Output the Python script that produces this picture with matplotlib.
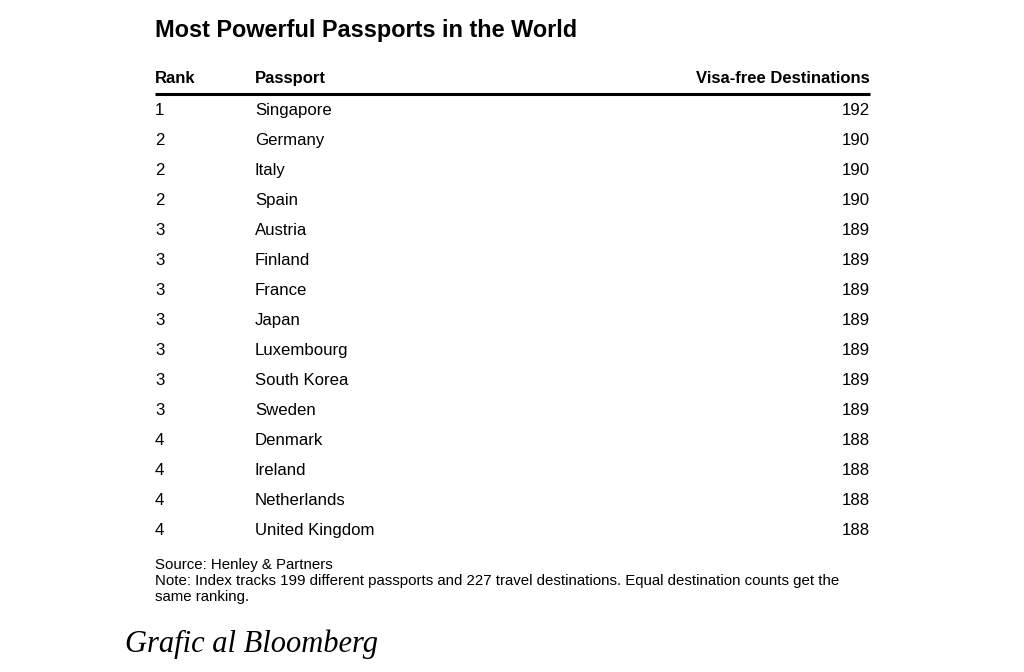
"""Most Powerful Passports in the World - table chart"""
import matplotlib
matplotlib.use('Agg')
import matplotlib.pyplot as plt

plt.rcParams.update({'font.family': ['Liberation Sans', 'DejaVu Sans']})

ranks = [1, 2, 2, 2, 3, 3, 3, 3, 3, 3, 3, 4, 4, 4, 4]
passports = ['Singapore', 'Germany', 'Italy', 'Spain', 'Austria', 'Finland',
             'France', 'Japan', 'Luxembourg', 'South Korea', 'Sweden',
             'Denmark', 'Ireland', 'Netherlands', 'United Kingdom']
destinations = [192, 190, 190, 190, 189, 189, 189, 189, 189, 189, 189,
                188, 188, 188, 188]
headers = ['Rank', 'Passport', 'Visa-free Destinations']

TITLE = 'Most Powerful Passports in the World'
FOOTNOTES = ['Source: Henley & Partners',
             'Note: Index tracks 199 different passports and 227 travel destinations. '
             'Equal destination counts get the',
             'same ranking.']
CAPTION = 'Grafic al Bloomberg'

fig = plt.figure(figsize=(10.24, 6.72), dpi=100)
ax = fig.add_axes([0, 0, 1, 1])
ax.set_xlim(0, 1024)
ax.set_ylim(672, 0)
ax.axis('off')

# column positions and row spacing (pixels)
x_rank, x_pass, x_val = 155, 255, 870
row0, step = 115, 30

ax.text(x_rank, 37, TITLE, fontsize=16.9, fontweight='bold', va='baseline', ha='left')

for x, h, ha in zip([x_rank, x_pass, x_val], headers, ['left', 'left', 'right']):
    ax.text(x, 83, h, fontsize=12, fontweight='bold', va='baseline', ha=ha)
ax.plot([x_rank, x_val], [94.3, 94.3], color='black', lw=2.2, solid_capstyle='butt')

for i, (r, p, d) in enumerate(zip(ranks, passports, destinations)):
    y = row0 + i * step
    ax.text(x_rank, y, str(r), fontsize=12.1, va='baseline', ha='left')
    ax.text(x_pass, y, p, fontsize=12.1, va='baseline', ha='left')
    ax.text(x_val, y, str(d), fontsize=12.1, va='baseline', ha='right')

for i, line in enumerate(FOOTNOTES):
    ax.text(x_rank, 569 + i * 16, line, fontsize=10.8, va='baseline', ha='left')

ax.text(125, 652, CAPTION, fontsize=22, fontstyle='italic', va='baseline', ha='left',
        family='Liberation Serif')

fig.savefig('out.png', dpi=100)
